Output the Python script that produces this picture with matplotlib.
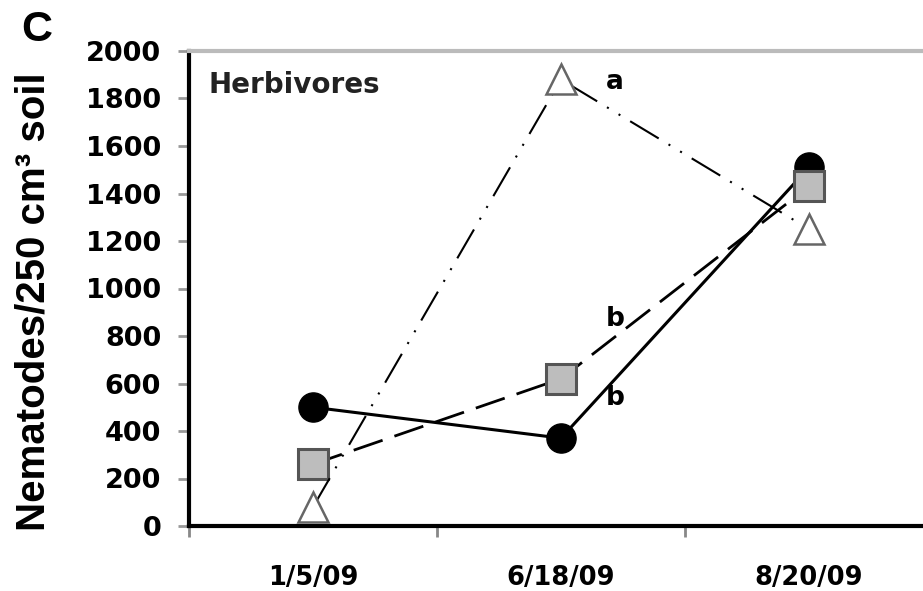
import numpy as np
import matplotlib
matplotlib.use("Agg")
import matplotlib.pyplot as plt

plt.rcParams['font.family'] = ['DejaVu Sans']
plt.rcParams['font.weight'] = 'bold'

# Data
dates = ['1/5/09', '6/18/09', '8/20/09']
circles = [500, 370, 1510]      # solid line, black circles
squares = [260, 620, 1430]      # dashed line, gray squares
triangles = [80, 1880, 1250]    # dash-dot-dot line, open triangles
letters = ['a', 'b', 'b']
letter_y = [1870, 870, 540]
yticks = np.arange(0, 2001, 200)

x = np.arange(len(dates)) + 0.5

fig = plt.figure(figsize=(9.23, 5.91), dpi=100)
ax = fig.add_axes([189 / 923, 65 / 591, 744 / 923, 475 / 591])

ax.plot(x, circles, '-', color='black', lw=2.2, marker='o', ms=21,
        mfc='black', mec='black', zorder=3)
ax.plot(x, squares, color='black', lw=2.0, ls=(0, (11, 4.5)), marker='s', ms=21,
        mfc='#bdbdbd', mec='#555555', mew=2.2, zorder=4)
ax.plot(x, triangles, color='black', lw=1.5, ls=(0, (16, 5.5, 1, 5.5, 1, 5.5)),
        marker='^', ms=22, mfc='white', mec='#666666', mew=1.8, zorder=5)

for lx, ly, s in zip([1.68, 1.68, 1.68], letter_y, letters):
    ax.text(lx, ly, s, fontsize=19, fontweight='bold', ha='left', va='center')

ax.text(0.026, 0.928, 'Herbivores', transform=ax.transAxes, fontsize=20,
        fontweight='bold', ha='left', va='center', color='#222222')

ax.set_xlim(0, 3)
ax.set_ylim(0, 2000)
ax.set_yticks(yticks)
ax.set_yticklabels([str(v) for v in yticks], fontsize=19.5, fontweight='bold')
ax.set_xticks(x)
ax.set_xticklabels(dates, fontsize=18.5, fontweight='bold')
ax.set_xticks([0, 1, 2, 3], minor=True)
ax.tick_params(axis='x', which='major', length=0, pad=28)
ax.tick_params(axis='x', which='minor', length=8, width=2, color='#888888')
ax.tick_params(axis='y', length=8, width=2, color='#999999', pad=12)

for side in ['left', 'bottom']:
    ax.spines[side].set_linewidth(3)
    ax.spines[side].set_color('black')
ax.spines['top'].set_color('#bbbbbb')
ax.spines['top'].set_linewidth(3)
ax.spines['right'].set_visible(False)

fig.text(34 / 923, 1 - 302 / 591, 'Nematodes/250 cm³ soil',
         family='Liberation Sans', rotation=90, fontsize=29,
         fontweight='bold', ha='center', va='center')
fig.text(37 / 923, 1 - 30 / 591, 'C', family='Liberation Sans', fontsize=31,
         fontweight='bold', ha='center', va='center')

fig.savefig('out.png', dpi=100)
